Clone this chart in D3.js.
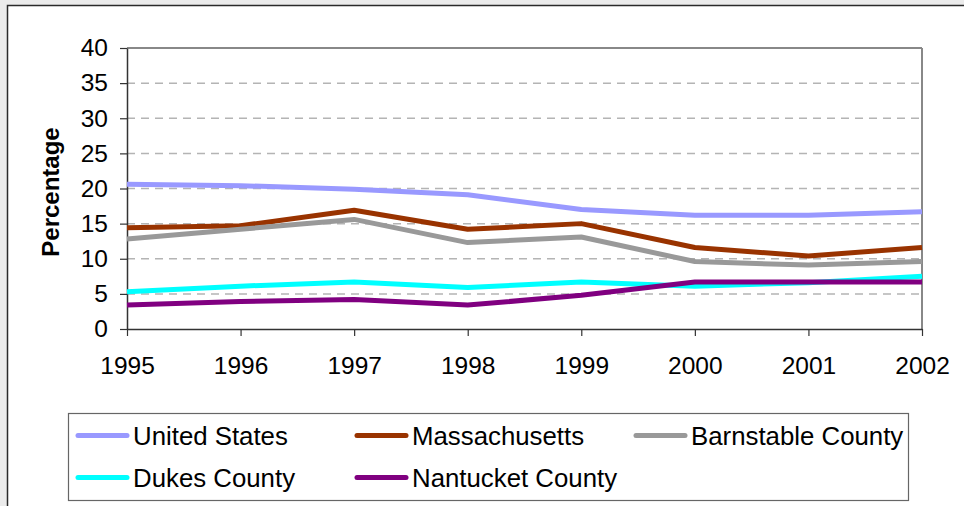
<!DOCTYPE html>
<html>
<head>
<meta charset="utf-8">
<script src="https://cdn.jsdelivr.net/npm/d3@7"></script>
<style>
  html, body { margin: 0; padding: 0; background: #ebebeb; }
  svg { display: block; font-family: "Liberation Sans", Arial, sans-serif; }
</style>
</head>
<body>
<svg id="chart" width="964" height="506"></svg>
<script>
// Share of population (%) by year and area
const years = [1995, 1996, 1997, 1998, 1999, 2000, 2001, 2002];
const unitedStates  = [20.6, 20.4, 19.9, 19.1, 17.0, 16.2, 16.2, 16.7];
const massachusetts = [14.4, 14.7, 16.9, 14.2, 15.0, 11.6, 10.4, 11.6];
const barnstable    = [12.8, 14.2, 15.6, 12.3, 13.1, 9.6, 9.1, 9.6];
const dukes         = [5.3, 6.1, 6.7, 5.9, 6.7, 6.1, 6.6, 7.5];
const nantucket     = [3.4, 3.9, 4.2, 3.4, 4.8, 6.7, 6.7, 6.7];
const yTicks = [0, 5, 10, 15, 20, 25, 30, 35, 40];

const seriesNames = ["United States", "Massachusetts", "Barnstable County", "Dukes County", "Nantucket County"];
const seriesValues = [unitedStates, massachusetts, barnstable, dukes, nantucket];
const seriesColors = ["#9999ff", "#993300", "#999999", "#00ffff", "#800080"];

const svg = d3.select("#chart");

// white panel with dark frame
svg.append("rect")
  .attr("x", 7.5).attr("y", 5.5)
  .attr("width", 970).attr("height", 520)
  .attr("fill", "#ffffff")
  .attr("stroke", "#2a2a2a").attr("stroke-width", 1.5);

const x = d3.scalePoint().domain(years).range([127, 922]);
const y = d3.scaleLinear().domain([0, 40]).range([329, 48]);

// dashed gridlines
svg.append("g")
  .selectAll("line")
  .data(yTicks.filter(t => t > 0 && t < 40))
  .join("line")
  .attr("x1", x(1995)).attr("x2", x(2002))
  .attr("y1", d => y(d)).attr("y2", d => y(d))
  .attr("stroke", "#b4b4b4").attr("stroke-width", 1.5)
  .attr("stroke-dasharray", "8,6");

// plot frame top and right
svg.append("line")
  .attr("x1", x(1995)).attr("x2", x(2002))
  .attr("y1", y(40)).attr("y2", y(40))
  .attr("stroke", "#888").attr("stroke-width", 2);
svg.append("line")
  .attr("x1", x(2002)).attr("x2", x(2002))
  .attr("y1", y(40)).attr("y2", y(0))
  .attr("stroke", "#888").attr("stroke-width", 2);

// y axis
const yAxis = svg.append("g")
  .attr("transform", `translate(${x(1995)},0)`)
  .call(d3.axisLeft(y).tickValues(yTicks).tickSize(7).tickPadding(12).tickSizeOuter(0));
yAxis.select(".domain").attr("stroke", "#333").attr("stroke-width", 1.5);
yAxis.selectAll(".tick line").attr("stroke", "#333").attr("stroke-width", 1.2);
yAxis.selectAll(".tick text")
  .attr("font-size", 24.5).attr("fill", "#000")
  .attr("font-family", "'Liberation Sans', Arial, sans-serif");

// x axis
const xAxis = svg.append("g")
  .attr("transform", `translate(0,${y(0)})`)
  .call(d3.axisBottom(x).tickSize(7).tickPadding(21).tickSizeOuter(0).tickFormat(d3.format("d")));
xAxis.select(".domain").attr("stroke", "#333").attr("stroke-width", 1.5);
xAxis.selectAll(".tick line").attr("stroke", "#333").attr("stroke-width", 1.2);
xAxis.selectAll(".tick text")
  .attr("font-size", 24.5).attr("fill", "#000")
  .attr("font-family", "'Liberation Sans', Arial, sans-serif");

// axis title
svg.append("text")
  .attr("transform", "translate(59,192) rotate(-90)")
  .attr("text-anchor", "middle")
  .attr("font-size", 24).attr("font-weight", "bold")
  .text("Percentage");

// series lines
const line = d3.line()
  .x((d, i) => x(years[i]))
  .y(d => y(d));

svg.append("g")
  .selectAll("path")
  .data(seriesValues)
  .join("path")
  .attr("d", d => line(d))
  .attr("fill", "none")
  .attr("stroke", (d, i) => seriesColors[i])
  .attr("stroke-width", 5)
  .attr("stroke-linejoin", "round");

// legend
svg.append("rect")
  .attr("x", 68.5).attr("y", 413.5)
  .attr("width", 840).attr("height", 87)
  .attr("fill", "#fff").attr("stroke", "#666").attr("stroke-width", 1.2);

const legendCols = [78, 357, 636];
const legendRows = [435.5, 477.5];
const legend = svg.append("g")
  .selectAll("g")
  .data(seriesNames)
  .join("g")
  .attr("transform", (d, i) => `translate(${legendCols[i % 3]},${legendRows[Math.floor(i / 3)]})`);
legend.append("line")
  .attr("x1", 0).attr("x2", 49)
  .attr("stroke", (d, i) => seriesColors[i])
  .attr("stroke-width", 5).attr("stroke-linecap", "round");
legend.append("text")
  .attr("x", 55).attr("dy", "0.36em")
  .attr("font-size", 25.8).attr("fill", "#000")
  .text(d => d);
</script>
</body>
</html>
